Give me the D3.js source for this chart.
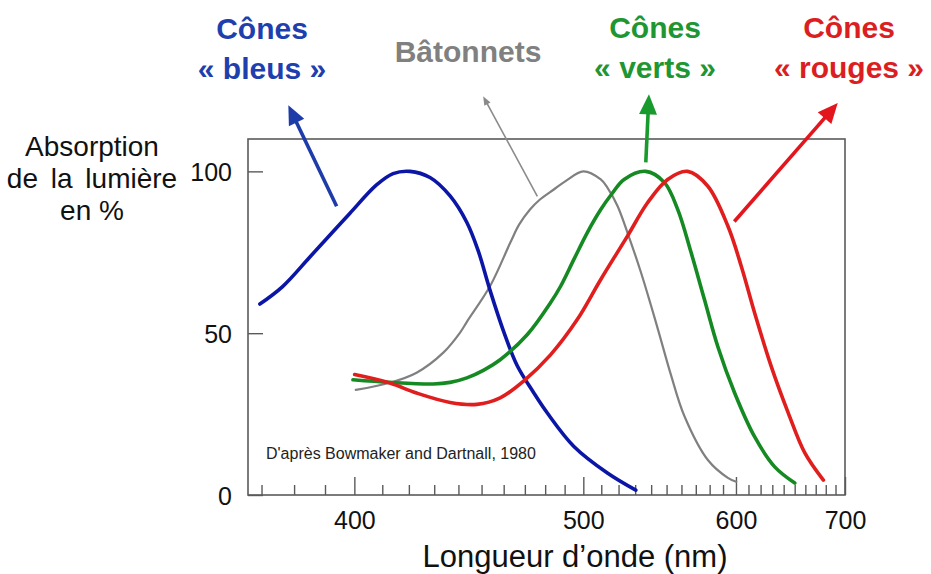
<!DOCTYPE html>
<html>
<head>
<meta charset="utf-8">
<script src="https://cdn.jsdelivr.net/npm/d3@7"></script>
<style>
  body { margin: 0; background: #fff; }
  svg { display: block; font-family: "Liberation Sans", Arial, sans-serif; }
</style>
</head>
<body>
<div id="chart"></div>
<script>
// --- data (wavelength nm, absorption %) ---
var blueNm  = [369.5, 376.4, 384.9, 392.5, 398.4, 407.9, 414, 420.4, 428.3, 436.5, 443.6, 448.5, 453.9, 460, 466.3, 474.3, 481, 494.9, 513.5, 530.4];
var blueAbs = [59, 64.4, 73.4, 81.2, 87, 95.8, 99.3, 100, 98.1, 92.4, 84.2, 75.5, 63, 50.5, 40, 31.6, 25.4, 15, 6.8, 1.5];

var grayNm  = [400.5, 412.8, 423, 433.7, 440.7, 443.6, 454, 463.1, 467.3, 472.5, 477.4, 484.4, 490.5, 500, 509.7, 513.5, 519.4, 525.3, 533.5, 539.8, 545, 552.9, 562, 578.7, 593.7, 600.2];
var grayAbs = [32.5, 34.7, 37.8, 44, 50.2, 53.5, 64.8, 78, 83.6, 88.2, 91.3, 94.4, 97, 100, 97.5, 95, 89.3, 81.1, 68.9, 58.7, 50.1, 37.1, 24.4, 10.8, 5.3, 4.1];

var greenNm  = [399.5, 412.8, 429.6, 436.5, 443.6, 451, 458.4, 471.1, 482.7, 487.9, 494.9, 502.2, 509.7, 516, 523.3, 536.6, 548.5, 557.5, 566.7, 576.2, 586.1, 598.9, 615, 632.1, 650.1];
var greenAbs = [35.6, 34.8, 34.3, 34.8, 36.2, 38.6, 41.8, 49.5, 59.4, 64.5, 72.8, 81.1, 88.2, 93, 97.5, 100, 96.6, 88.2, 74.9, 60.4, 45.8, 31.6, 18, 8.7, 3.7];

var redNm  = [400.1, 412.8, 423, 436.5, 447.9, 458.4, 469.4, 482.7, 496.7, 509.7, 525.3, 537.7, 550.7, 564.3, 578.7, 593.7, 604.2, 615, 629.2, 644.1, 659.5, 677.6];
var redAbs = [37.2, 34.6, 31.5, 28.6, 28, 30, 35.2, 43.3, 54.2, 66.6, 80, 90.3, 97.5, 100, 95.4, 83.1, 70.7, 56.3, 39.6, 25.4, 13, 4.6];

var majorTicks = [400, 500, 600, 700];
var minorTicks = [370, 380, 390, 410, 420, 430, 440, 450, 460, 470, 480, 490,
                  510, 520, 530, 540, 550, 560, 570, 580, 590,
                  610, 620, 630, 640, 650, 660, 670, 680, 690];
var yTicks = [0, 50, 100];

// arrows: [tail nm, tail %, tip nm, tip %]
var arrowBlue  = [393.9, 89.2, 378.2, 120.4];
var arrowGray  = [476.1, 92.3, 450.7, 123.2];
var arrowGreen = [536.6, 102.8, 538.6, 123.8];
var arrowRed   = [598.7, 84.5, 692.3, 121.1];

var yTitle = ["Absorption", "de la lumière", "en %"];
var xTitle = "Longueur d’onde (nm)";
var source = "D'après Bowmaker and Dartnall, 1980";

var w = 931, h = 574;
var frame = {left: 248, right: 845, top: 139, bottom: 495};

var svg = d3.select("#chart").append("svg")
  .attr("width", w)
  .attr("height", h);

// x axis is linear in 1/wavelength
var xs = d3.scaleLinear()
  .domain([1 / 366, 1 / 700])
  .range([frame.left, frame.right]);
function x(nm) { return xs(1 / nm); }

var y = d3.scaleLinear()
  .domain([0, 110])
  .range([frame.bottom, frame.top]);

// frame
svg.append("rect")
  .attr("x", frame.left)
  .attr("y", frame.top)
  .attr("width", frame.right - frame.left)
  .attr("height", frame.bottom - frame.top)
  .attr("fill", "none")
  .attr("stroke", "#5a5a5a")
  .attr("stroke-width", 1.6);

// minor ticks
var minorAxis = svg.append("g")
  .attr("transform", "translate(0," + frame.bottom + ")")
  .call(d3.axisBottom(xs)
    .tickValues(minorTicks.map(function(d){ return 1 / d; }))
    .tickSize(-10)
    .tickFormat(""));
minorAxis.select(".domain").remove();

var majorAxis = svg.append("g")
  .attr("transform", "translate(0," + frame.bottom + ")")
  .call(d3.axisBottom(xs)
    .tickValues(majorTicks.map(function(d){ return 1 / d; }))
    .tickSize(-18)
    .tickPadding(16)
    .tickFormat(function(d){ return Math.round(1 / d); }));
majorAxis.select(".domain").remove();

var yAxis = svg.append("g")
  .attr("transform", "translate(" + frame.left + ",0)")
  .call(d3.axisLeft(y)
    .tickValues(yTicks)
    .tickSize(-15)
    .tickPadding(16));
yAxis.select(".domain").remove();

svg.selectAll(".tick line").attr("stroke", "#5a5a5a").attr("stroke-width", 1.4);
svg.selectAll(".tick text")
  .attr("fill", "#111")
  .style("font-size", "25px")
  .style("font-family", "'Liberation Sans', Arial, sans-serif");
yAxis.selectAll(".tick text").attr("dy", "0.38em");

// curves
var line = d3.line()
  .x(function(d){ return x(d[0]); })
  .y(function(d){ return y(d[1]); })
  .curve(d3.curveCatmullRom.alpha(0.5));

var series = [
  {nm: grayNm,  abs: grayAbs,  color: "#808080", width: 2.2},
  {nm: blueNm,  abs: blueAbs,  color: "#0c16a6", width: 3.6},
  {nm: greenNm, abs: greenAbs, color: "#168a22", width: 3.6},
  {nm: redNm,   abs: redAbs,   color: "#e01e1e", width: 3.6}
];

series.forEach(function(s) {
  var pts = s.nm.map(function(n, i){ return [n, s.abs[i]]; });
  svg.append("path")
    .datum(pts)
    .attr("d", line)
    .attr("fill", "none")
    .attr("stroke", s.color)
    .attr("stroke-width", s.width)
    .attr("stroke-linecap", "round")
    .attr("stroke-linejoin", "round");
});

// arrows
function arrow(a, color, width, headLen, headW) {
  var x1 = x(a[0]), y1 = y(a[1]), x2 = x(a[2]), y2 = y(a[3]);
  var dx = x2 - x1, dy = y2 - y1, len = Math.sqrt(dx * dx + dy * dy);
  var ux = dx / len, uy = dy / len;
  var bx = x2 - ux * headLen, by = y2 - uy * headLen;
  svg.append("line")
    .attr("x1", x1).attr("y1", y1)
    .attr("x2", bx + ux * 2).attr("y2", by + uy * 2)
    .attr("stroke", color)
    .attr("stroke-width", width);
  svg.append("path")
    .attr("d", "M" + x2 + "," + y2 +
      "L" + (bx - uy * headW / 2) + "," + (by + ux * headW / 2) +
      "L" + (bx + uy * headW / 2) + "," + (by - ux * headW / 2) + "Z")
    .attr("fill", color);
}
arrow(arrowBlue, "#1d3caa", 3.6, 19, 17);
arrow(arrowGray, "#8a8a8a", 1.6, 9, 7);
arrow(arrowGreen, "#199a2c", 3.6, 20, 18);
arrow(arrowRed, "#e3151d", 3.6, 20, 18);

// labels
function label(lines, cx, y0, color) {
  var t = svg.append("text")
    .attr("text-anchor", "middle")
    .attr("fill", color)
    .style("font-size", "30px")
    .style("font-weight", "bold");
  lines.forEach(function(l, i) {
    t.append("tspan").attr("x", cx).attr("y", y0 + i * 40).text(l);
  });
}
label(["Cônes", "« bleus »"], 262, 39, "#1f3fae");
label(["Bâtonnets"], 468, 62, "#808080");
label(["Cônes", "« verts »"], 655, 38, "#1e9632");
label(["Cônes", "« rouges »"], 849, 38, "#dc1e23");

var yt = svg.append("text")
  .attr("text-anchor", "middle")
  .attr("fill", "#111")
  .style("font-size", "28px");
yTitle.forEach(function(l, i) {
  yt.append("tspan")
    .attr("x", 92)
    .attr("y", 156 + i * 32)
    .style("word-spacing", i === 1 ? "5px" : null)
    .text(l);
});

svg.append("text")
  .attr("x", 575)
  .attr("y", 567)
  .attr("text-anchor", "middle")
  .attr("fill", "#111")
  .style("font-size", "31px")
  .text(xTitle);

svg.append("text")
  .attr("x", 266)
  .attr("y", 459)
  .attr("fill", "#222")
  .style("font-size", "16px")
  .text(source);
</script>
</body>
</html>
